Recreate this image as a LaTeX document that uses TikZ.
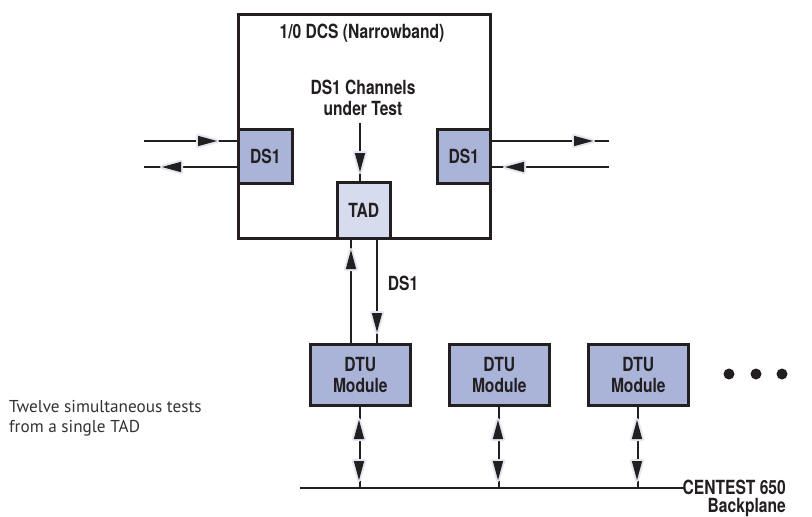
\documentclass[tikz,border=0pt]{standalone}
\usepackage{fontspec}
\newfontfamily\lblfont[FakeStretch=0.8]{TeX Gyre Heros}
\newfontfamily\notefont{PT Sans}
\definecolor{ink}{HTML}{231F20}
\definecolor{boxblue}{HTML}{AAB4D8}
\definecolor{tadblue}{HTML}{D6DBEE}
\definecolor{halo}{HTML}{E4E7F1}
\definecolor{notegray}{HTML}{333333}

\begin{document}
\begin{tikzpicture}[x=1pt,y=-1pt,
  lbl/.style={font=\lblfont\bfseries\fontsize{19.5}{20.5}\selectfont, text=ink, align=center, inner sep=0pt},
  frame/.style={draw=ink, line width=2.6pt, inner sep=0pt, anchor=north west},
  blk/.style={frame, fill=boxblue, lbl},
  wire/.style={draw=ink, line width=2pt},
  % arrowhead sitting on a line: light halo stroke underneath, solid head on top
  halostroke/.style={draw=halo, fill=halo, line width=4pt, line join=round},
  headfill/.style={fill=ink},
  triR/.pic={\path[halostroke] (0,0) -- (-19,-5.2) -- (-19,5.2) -- cycle;
             \path[headfill] (0,0) -- (-19,-5.2) -- (-19,5.2) -- cycle;},
  triL/.pic={\path[halostroke] (0,0) -- (19,-5.2) -- (19,5.2) -- cycle;
             \path[headfill] (0,0) -- (19,-5.2) -- (19,5.2) -- cycle;},
  triD/.pic={\path[halostroke] (0,0) -- (-5.2,-19) -- (5.2,-19) -- cycle;
             \path[headfill] (0,0) -- (-5.2,-19) -- (5.2,-19) -- cycle;},
  triU/.pic={\path[halostroke] (0,0) -- (-5.2,19) -- (5.2,19) -- cycle;
             \path[headfill] (0,0) -- (-5.2,19) -- (5.2,19) -- cycle;},
  dot/.style={circle, fill=ink, minimum size=11pt, inner sep=0pt}
]
\fill[white] (0,0) rectangle (812,517);
\useasboundingbox (0,0) rectangle (812,517);

% 1/0 DCS enclosure and its ports
\node[frame, minimum width=252pt, minimum height=224pt] (dcs) at (237,13) {};
\node[lbl] (title) at (362,33) {1/0 DCS (Narrowband)};
\node[lbl] (chan) at (363,98) {DS1 Channels\\under Test};
\node[blk, minimum width=54pt, minimum height=54pt] (dsL) at (237,128) {DS1};
\node[blk, minimum width=53pt, minimum height=54pt] (dsR) at (436,128) {DS1};
\node[blk, fill=tadblue, minimum width=53pt, minimum height=56pt] (tad) at (336,181) {TAD};

% external DS1 lines
\coordinate (inL)  at (144,141);
\coordinate (outL) at (144,167);
\coordinate (inR)  at (609,167);
\coordinate (outR) at (609,141);
\draw[wire] (inL) -- (inL -| dsL.west);
\draw[wire] (outL) -- (outL -| dsL.west);
\draw[wire] (outR) -- (outR -| dsR.east);
\draw[wire] (inR) -- (inR -| dsR.east);
\pic at (217,141) {triR};
\pic at (162,167) {triL};
\pic at (593,141) {triR};
\pic at (505,167) {triL};

% channels under test into the TAD
\coordinate (chanEnd) at (360,123);
\draw[wire] (chanEnd) -- (chanEnd |- tad.north);
\pic at (360,172) {triD};

% DTU modules
\node[blk, minimum width=100pt, minimum height=61pt] (dtuA) at (309,343) {DTU\\Module};
\node[blk, minimum width=100pt, minimum height=61pt] (dtuB) at (448,343) {DTU\\Module};
\node[blk, minimum width=100pt, minimum height=61pt] (dtuC) at (587,343) {DTU\\Module};
\node[dot] (d1) at (729,374) {};
\node[dot] (d2) at (756,374) {};
\node[dot] (d3) at (782,374) {};

% TAD <-> first DTU
\coordinate (upX) at (351,0);
\coordinate (dnX) at (377,0);
\draw[wire] (dtuA.north -| upX) -- (tad.south -| upX);
\draw[wire] (tad.south -| dnX) -- (dtuA.north -| dnX);
\pic at (351,250) {triU};
\pic at (377,332) {triD};
\node[lbl] (dslbl) at (403,283) {DS1};

% backplane
\coordinate (bpL) at (300,488);
\coordinate (bpR) at (685,488);
\draw[wire] (bpL) -- (bpR);
\node[lbl, align=right, anchor=north east, font=\lblfont\bfseries\fontsize{19.5}{18}\selectfont]
  (bplbl) at (786,480) {CENTEST 650\\Backplane};
\foreach \m/\x in {dtuA/359,dtuB/498,dtuC/637}{
  \draw[wire] (\m.south) -- (\m.south |- bpL);
  \pic at (\x,420) {triU};
  \pic at (\x,480) {triD};
}

% note
\node[font=\notefont\fontsize{17.2}{20}\selectfont, text=notegray, align=left,
      anchor=north west, inner sep=0pt] (note) at (9,400)
  {Twelve simultaneous tests\\from a single TAD};
\end{tikzpicture}
\end{document}
